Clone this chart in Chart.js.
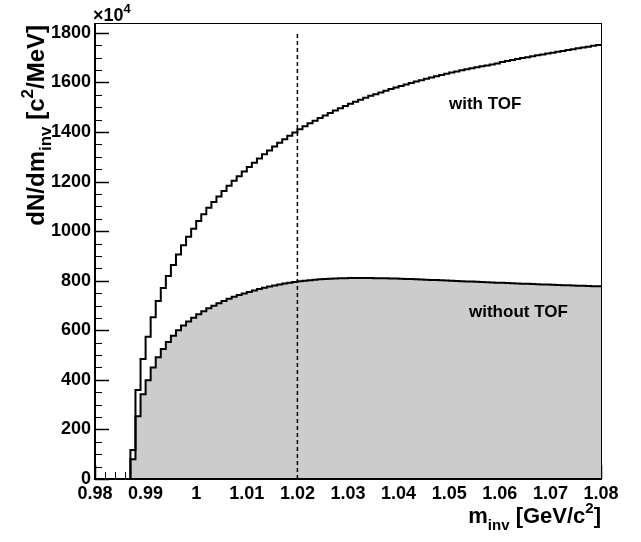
<!DOCTYPE html>
<html>
<head>
<meta charset="utf-8">
<script src="https://cdn.jsdelivr.net/npm/chart.js@4.4.1/dist/chart.umd.min.js"></script>
<style>
  html, body { margin: 0; padding: 0; background: #fff; }
  #wrap { width: 641px; height: 542px; }
</style>
</head>
<body>
<div id="wrap"><canvas id="myChart" width="641" height="542"></canvas></div>
<script>
// histogram binning: 100 bins of 1 MeV from 0.98 to 1.08 GeV
const binStart = 0.98
const binWidth = 0.001

// dN/dm_inv in units of 10^4, one value per bin
const withTOF = [
  0, 0, 0, 0, 0, 0, 0, 117, 359, 484,
  574, 653, 718, 771, 819, 864, 906, 943, 977, 1010,
  1041, 1068, 1095, 1118, 1140, 1162, 1183, 1203, 1222, 1241,
  1259, 1276, 1293, 1310, 1326, 1342, 1357, 1371, 1385, 1398,
  1411, 1423, 1435, 1446, 1457, 1467, 1477, 1487, 1496, 1505,
  1514, 1522, 1530, 1538, 1546, 1553, 1560, 1567, 1574, 1580,
  1586, 1592, 1598, 1604, 1609, 1615, 1620, 1625, 1630, 1635,
  1640, 1644, 1649, 1653, 1657, 1661, 1665, 1669, 1673, 1677,
  1683, 1687, 1691, 1695, 1699, 1702, 1706, 1710, 1713, 1717,
  1720, 1724, 1727, 1731, 1734, 1738, 1741, 1744, 1748, 1751
]
const withoutTOF = [
  0, 0, 0, 0, 0, 0, 0, 80, 253, 342,
  398, 450, 491, 525, 553, 578, 600, 619, 636, 651,
  665, 677, 689, 699, 709, 718, 727, 735, 742, 749,
  755, 761, 767, 772, 777, 781, 785, 789, 792, 795,
  798, 800, 802, 804, 806, 807, 808, 809, 810, 810,
  811, 811, 811, 811, 811, 810, 810, 810, 809, 809,
  808, 807, 807, 806, 805, 804, 803, 803, 802, 801,
  800, 799, 798, 797, 797, 796, 795, 794, 793, 792,
  792, 791, 790, 789, 788, 788, 787, 786, 785, 785,
  784, 783, 782, 782, 781, 780, 780, 779, 778, 778
]

const xTicks = [0.98, 0.99, 1.00, 1.01, 1.02, 1.03, 1.04, 1.05, 1.06, 1.07, 1.08]
const yTicks = [0, 200, 400, 600, 800, 1000, 1200, 1400, 1600, 1800]
const phiMass = 1.02
const yMax = 1840

const FONT = '"Liberation Sans", Arial, Helvetica, sans-serif'

// bin low edges + closing point so the stepped line covers the last bin
function toSteps(values) {
  const pts = values.map((v, i) => ({ x: binStart + i * binWidth, y: v }))
  pts.push({ x: binStart + values.length * binWidth, y: values[values.length - 1] })
  return pts
}

// text with sub/superscripts: parts = [[text, 'n'|'sub'|'sup'], ...]
function drawRich(ctx, parts, x, y, size, align) {
  const sz = k => (k === 'n' ? size : Math.round(size * 0.7))
  let total = 0
  parts.forEach(([t, k]) => {
    ctx.font = 'bold ' + sz(k) + 'px ' + FONT
    total += ctx.measureText(t).width
  })
  let cx = align === 'right' ? x - total : x
  ctx.textAlign = 'left'
  ctx.textBaseline = 'alphabetic'
  parts.forEach(([t, k]) => {
    ctx.font = 'bold ' + sz(k) + 'px ' + FONT
    let dy = 0
    if (k === 'sub') dy = size * 0.3
    if (k === 'sup') dy = -size * 0.45
    ctx.fillText(t, cx, y + dy)
    cx += ctx.measureText(t).width
  })
}

// inward ROOT style ticks, drawn before the datasets so the fill covers them
const rootTicks = {
  id: 'rootTicks',
  beforeDatasetsDraw(chart) {
    const { ctx, chartArea: a, scales: { x, y } } = chart
    ctx.save()
    ctx.strokeStyle = '#000'
    for (let v = 0; v <= yMax + 1e-9; v += 50) {
      const py = Math.round(y.getPixelForValue(v)) + 0.5
      const major = v % 200 === 0
      ctx.lineWidth = major ? 1.5 : 1
      ctx.beginPath()
      ctx.moveTo(a.left, py)
      ctx.lineTo(a.left + (major ? 14 : 7), py)
      ctx.stroke()
    }
    for (let i = 0; i <= 50; i++) {
      const v = 0.98 + i * 0.002
      const px = Math.round(x.getPixelForValue(v)) + 0.5
      const major = i % 5 === 0
      ctx.lineWidth = major ? 1.5 : 1
      ctx.beginPath()
      ctx.moveTo(px, a.bottom)
      ctx.lineTo(px, a.bottom - (major ? 14 : 7))
      ctx.stroke()
    }
    ctx.restore()
  }
}

const frameAndText = {
  id: 'frameAndText',
  afterDraw(chart) {
    const { ctx, chartArea: a } = chart
    ctx.save()
    ctx.strokeStyle = '#000'
    ctx.lineWidth = 1
    ctx.strokeRect(a.left + 0.5, a.top + 0.5, a.right - a.left, a.bottom - a.top)
    ctx.lineWidth = 2
    ctx.beginPath()
    ctx.moveTo(a.left, a.top)
    ctx.lineTo(a.left, a.bottom)
    ctx.lineTo(a.right, a.bottom)
    ctx.stroke()

    ctx.fillStyle = '#000'
    // exponent
    drawRich(ctx, [['\u00d710', 'n'], ['4', 'sup']], a.left - 2, 21, 18, 'left')
    // curve labels
    drawRich(ctx, [['with TOF', 'n']], 449, 109, 17, 'left')
    drawRich(ctx, [['without TOF', 'n']], 469, 317, 17, 'left')
    // x title
    drawRich(ctx, [['m', 'n'], ['inv', 'sub'], [' [GeV/c', 'n'], ['2', 'sup'], [']', 'n']], a.right, 523, 22, 'right')
    // y title
    ctx.translate(44, 25)
    ctx.rotate(-Math.PI / 2)
    drawRich(ctx, [['dN/dm', 'n'], ['inv', 'sub'], [' [c', 'n'], ['2', 'sup'], ['/MeV]', 'n']], 0, 0, 24, 'right')
    ctx.restore()
  }
}

const tickFont = { family: FONT, size: 18, weight: 'bold' }

new Chart('myChart', {
  type: 'line',
  data: {
    datasets: [
      {
        label: 'phi mass',
        data: [{ x: phiMass, y: 0 }, { x: phiMass, y: 1800 }],
        borderColor: '#000',
        borderWidth: 1.5,
        borderDash: [4, 3],
        pointRadius: 0,
        fill: false,
        order: 0
      },
      {
        label: 'with TOF',
        data: toSteps(withTOF),
        stepped: true,
        borderColor: '#000',
        borderWidth: 2,
        pointRadius: 0,
        fill: false,
        order: 1
      },
      {
        label: 'without TOF',
        data: toSteps(withoutTOF),
        stepped: true,
        borderColor: '#000',
        borderWidth: 2,
        backgroundColor: '#cccccc',
        pointRadius: 0,
        fill: 'origin',
        order: 2
      }
    ]
  },
  options: {
    responsive: false,
    animation: false,
    layout: { padding: { top: 23, right: 40, left: 0, bottom: 0 } },
    plugins: {
      legend: { display: false },
      tooltip: { enabled: false }
    },
    scales: {
      x: {
        type: 'linear',
        min: 0.98,
        max: 1.08,
        grid: { display: false, drawTicks: false },
        border: { display: false },
        afterBuildTicks: s => { s.ticks = xTicks.map(v => ({ value: v })) },
        afterFit: s => { s.height = 63 },
        ticks: {
          font: tickFont,
          color: '#000',
          padding: 4,
          maxRotation: 0,
          autoSkip: false,
          callback: v => String(+v.toFixed(2))
        }
      },
      y: {
        min: 0,
        max: yMax,
        grid: { display: false, drawTicks: false },
        border: { display: false },
        afterBuildTicks: s => { s.ticks = yTicks.map(v => ({ value: v })) },
        afterFit: s => { s.width = 95 },
        ticks: {
          font: tickFont,
          color: '#000',
          padding: 4,
          autoSkip: false,
          callback: v => String(v)
        }
      }
    }
  },
  plugins: [rootTicks, frameAndText]
})
</script>
</body>
</html>
